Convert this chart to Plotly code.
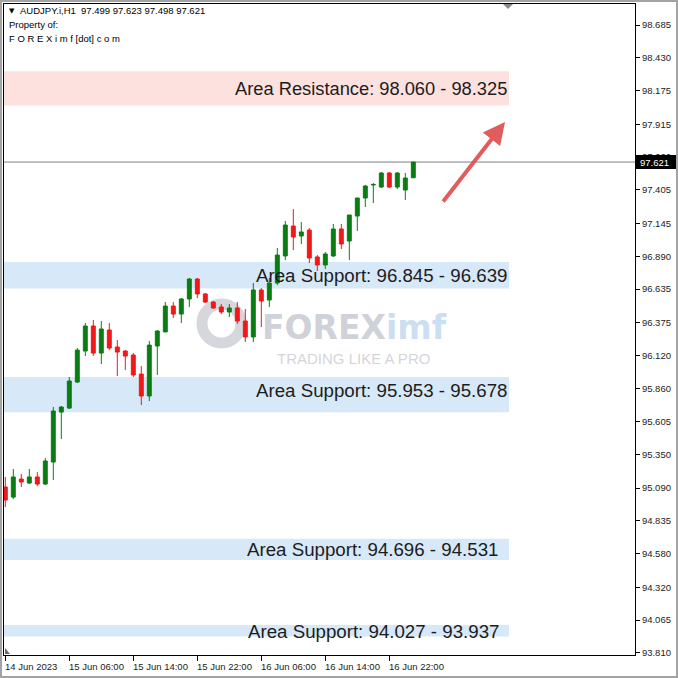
import plotly.graph_objects as go

# ---------------- data ----------------
bar_index = list(range(52))
opens = [95.098, 95.020, 95.160, 95.129, 95.176, 95.121, 95.292, 95.680, 95.711, 95.913,
         96.154, 96.348, 96.138, 96.317, 96.185, 96.154, 96.123, 95.975, 95.805, 96.193,
         96.302, 96.503, 96.441, 96.558, 96.713, 96.597, 96.534, 96.496, 96.457, 96.488,
         96.387, 96.263, 96.628, 96.550, 96.682, 96.892, 97.124, 97.047, 97.093, 96.884,
         96.822, 96.892, 97.101, 97.008, 97.202, 97.342, 97.443, 97.427, 97.536, 97.427,
         97.404, 97.499]
highs = [95.176, 95.238, 95.199, 95.238, 95.214, 95.323, 95.719, 95.727, 95.952, 96.177,
         96.371, 96.395, 96.387, 96.371, 96.239, 96.162, 96.138, 96.037, 96.232, 96.317,
         96.534, 96.534, 96.565, 96.721, 96.721, 96.604, 96.542, 96.519, 96.519, 96.534,
         96.480, 96.682, 96.643, 96.721, 96.954, 97.163, 97.256, 97.155, 97.109, 96.899,
         96.923, 97.140, 97.140, 97.210, 97.342, 97.443, 97.458, 97.544, 97.544, 97.544,
         97.536, 97.623]
lows = [94.943, 95.005, 95.098, 95.121, 95.106, 95.113, 95.152, 95.471, 95.704, 95.905,
        96.115, 96.115, 96.053, 96.162, 95.960, 96.007, 95.952, 95.735, 95.766, 95.968,
        96.302, 96.410, 96.371, 96.496, 96.565, 96.527, 96.480, 96.441, 96.418, 96.364,
        96.224, 96.224, 96.340, 96.496, 96.666, 96.861, 96.938, 96.985, 96.837, 96.775,
        96.791, 96.884, 96.946, 96.861, 97.086, 97.272, 97.303, 97.419, 97.419, 97.412,
        97.326, 97.498]
closes = [94.997, 95.176, 95.137, 95.176, 95.121, 95.300, 95.688, 95.719, 95.921, 96.161,
          96.348, 96.138, 96.325, 96.177, 96.146, 96.115, 95.968, 95.805, 96.200, 96.309,
          96.503, 96.441, 96.558, 96.713, 96.597, 96.534, 96.488, 96.457, 96.488, 96.387,
          96.263, 96.628, 96.542, 96.682, 96.899, 97.132, 97.039, 97.078, 96.876, 96.822,
          96.907, 97.101, 96.985, 97.210, 97.342, 97.435, 97.447, 97.536, 97.427, 97.536,
          97.497, 97.621]

current_price = 97.621
header_text = "AUDJPY.i,H1  97.499 97.623 97.498 97.621"

y_ticks = [98.685, 98.430, 98.175, 97.915, 97.660, 97.405, 97.145, 96.890, 96.635, 96.375,
           96.120, 95.860, 95.605, 95.350, 95.090, 94.835, 94.580, 94.320, 94.065, 93.810]
x_tick_index = [0, 8, 16, 24, 32, 40, 48]
x_tick_labels = ["14 Jun 2023", "15 Jun 06:00", "15 Jun 14:00", "15 Jun 22:00",
                 "16 Jun 06:00", "16 Jun 14:00", "16 Jun 22:00"]

zone_kind = ["resistance", "support", "support", "support", "support"]
zone_low = [98.060, 96.639, 95.678, 94.531, 93.937]
zone_high = [98.325, 96.845, 95.953, 94.696, 94.027]
zone_labels = ["Area Resistance: 98.060 - 98.325",
               "Area Support: 96.845 - 96.639",
               "Area Support: 95.953 - 95.678",
               "Area Support: 94.696 - 94.531",
               "Area Support: 94.027 - 93.937"]
zone_label_price = [98.19, 96.74, 95.85, 94.61, 93.98]
zone_label_right_px = [509, 509, 509, 500, 501]
zone_label_size = [18.3, 18.7, 18.7, 18.7, 18.7]

# ---------------- layout helpers (pixel -> paper) ----------------
W, H = 678, 678
PL, PR, PT, PB = 4, 635, 4, 655


def px(x):
    return (x - PL) / (PR - PL)


def py(y):
    return (PB - y) / (PB - PT)


fig = go.Figure()

fig.add_trace(go.Candlestick(
    x=bar_index, open=opens, high=highs, low=lows, close=closes,
    increasing=dict(line=dict(color="#0a7d12", width=1), fillcolor="#0a7d12"),
    decreasing=dict(line=dict(color="#f01818", width=1), fillcolor="#f01818"),
    whiskerwidth=0, hoverinfo="skip", showlegend=False,
))

shapes = []
annotations = []

# zones
for kind, lo, hi in zip(zone_kind, zone_low, zone_high):
    shapes.append(dict(
        type="rect", xref="paper", yref="y", x0=0, x1=px(509), y0=lo, y1=hi,
        fillcolor="#fde1df" if kind == "resistance" else "#d7e8f8",
        line=dict(width=0), layer="below"))

# watermark ring
shapes.append(dict(type="circle", xref="paper", yref="paper",
                   x0=px(202), x1=px(241), y0=py(343), y1=py(304),
                   line=dict(color="rgba(200,201,210,0.75)", width=11), layer="below"))

# current price line
shapes.append(dict(type="line", xref="paper", yref="y", x0=0, x1=1,
                   y0=current_price, y1=current_price,
                   line=dict(color="#7a8088", width=1), layer="below"))

# price tag
shapes.append(dict(type="rect", xref="paper", yref="y", x0=px(636), x1=px(676),
                   y0=current_price - 0.054, y1=current_price + 0.054,
                   fillcolor="black", line=dict(width=0), layer="above"))

# chart-shift marker and small triangle
shapes.append(dict(type="path", xref="paper", yref="paper",
                   path=f"M {px(503)} {py(4)} L {px(513)} {py(4)} L {px(508)} {py(9)} Z",
                   fillcolor="#8a8a8a", line=dict(width=0), layer="above"))
shapes.append(dict(type="path", xref="paper", yref="paper",
                   path=f"M {px(5)} {py(654)} L {px(5)} {py(648)} L {px(10)} {py(654)} Z",
                   fillcolor="#6a6a6a", line=dict(width=0), layer="above"))

# outer image border
shapes.append(dict(type="rect", xref="paper", yref="paper",
                   x0=px(1), x1=px(677), y0=py(677), y1=py(1),
                   line=dict(color="#a3a3a3", width=2), fillcolor="rgba(0,0,0,0)"))

fig.update_layout(shapes=shapes)

# zone labels
for text, yp, rx, fs in zip(zone_labels, zone_label_price, zone_label_right_px, zone_label_size):
    annotations.append(dict(text=text, xref="paper", yref="y", x=px(rx), y=yp,
                            xanchor="right", yanchor="middle", showarrow=False,
                            font=dict(family="Liberation Sans, Arial", size=fs, color="#1c1c1c")))

# x tick labels (left-aligned like MT4)
for idx, lab in zip(x_tick_index, x_tick_labels):
    annotations.append(dict(text=lab, xref="x", yref="paper", x=idx, y=py(666),
                            xanchor="left", yanchor="middle", showarrow=False, xshift=-2,
                            font=dict(family="Liberation Sans, Arial", size=9.5, color="#222")))

# price tag text
annotations.append(dict(text=f"{current_price:.3f}", xref="paper", yref="y",
                        x=px(638), y=current_price, xanchor="left", yanchor="middle",
                        showarrow=False,
                        font=dict(family="Liberation Sans, Arial", size=9.5, color="white")))

# header
annotations.append(dict(text="▼", xref="paper", yref="paper", x=px(7), y=py(11),
                        xanchor="left", yanchor="middle", showarrow=False,
                        font=dict(family="DejaVu Sans", size=7, color="black")))
annotations.append(dict(text=header_text, xref="paper", yref="paper", x=px(18), y=py(11),
                        xanchor="left", yanchor="middle", showarrow=False,
                        font=dict(family="Liberation Sans, Arial", size=9.5, color="black")))
annotations.append(dict(text="Property of:", xref="paper", yref="paper", x=px(7), y=py(25),
                        xanchor="left", yanchor="middle", showarrow=False,
                        font=dict(family="Liberation Sans, Arial", size=9.5, color="black")))
annotations.append(dict(text="F O R E X i m f [dot] c o m", xref="paper", yref="paper",
                        x=px(7), y=py(38), xanchor="left", yanchor="middle", showarrow=False,
                        font=dict(family="Liberation Sans, Arial", size=9.5, color="black")))

# watermark text
annotations.append(dict(
    text="<b><span style='color:rgba(196,198,208,0.8)'>FOREX</span>"
         "<span style='color:rgba(190,214,238,0.8)'>imf</span></b>",
    xref="paper", yref="paper", x=px(354), y=py(327), xanchor="center", yanchor="middle",
    showarrow=False, font=dict(family="DejaVu Sans", size=33)))
annotations.append(dict(text="TRADING LIKE A PRO", xref="paper", yref="paper",
                        x=px(353), y=py(358), xanchor="center", yanchor="middle",
                        showarrow=False,
                        font=dict(family="Liberation Sans, Arial", size=15,
                                  color="rgba(205,205,210,0.85)")))

# arrow
annotations.append(dict(text="", xref="paper", yref="paper", x=px(505), y=py(122),
                        ax=442 - 505, ay=203 - 122, showarrow=True,
                        arrowhead=2, arrowsize=1.1, arrowwidth=4,
                        arrowcolor="rgba(222,76,76,0.9)"))

fig.update_layout(annotations=annotations)

fig.update_layout(
    width=W, height=H,
    margin=dict(l=PL, r=W - PR, t=PT, b=H - PB),
    paper_bgcolor="white", plot_bgcolor="white",
    showlegend=False,
    xaxis=dict(range=[-0.1625, 78.71], rangeslider=dict(visible=False),
               showgrid=False, zeroline=False, showline=True, mirror=True,
               linecolor="black", linewidth=1,
               tickvals=x_tick_index, showticklabels=False,
               ticks="outside", ticklen=5, tickcolor="black"),
    yaxis=dict(range=[93.794, 98.848], side="right",
               showgrid=False, zeroline=False, showline=True, mirror=True,
               linecolor="black", linewidth=1,
               tickvals=y_ticks, ticktext=[f"{v:.3f}" for v in y_ticks],
               ticks="outside", ticklen=4, tickcolor="black",
               tickfont=dict(family="Liberation Sans, Arial", size=9.5, color="#222")),
)

fig.write_html("out.html", config={"displayModeBar": False},
               post_script="document.body.style.margin='0';document.body.style.overflow='hidden';")
